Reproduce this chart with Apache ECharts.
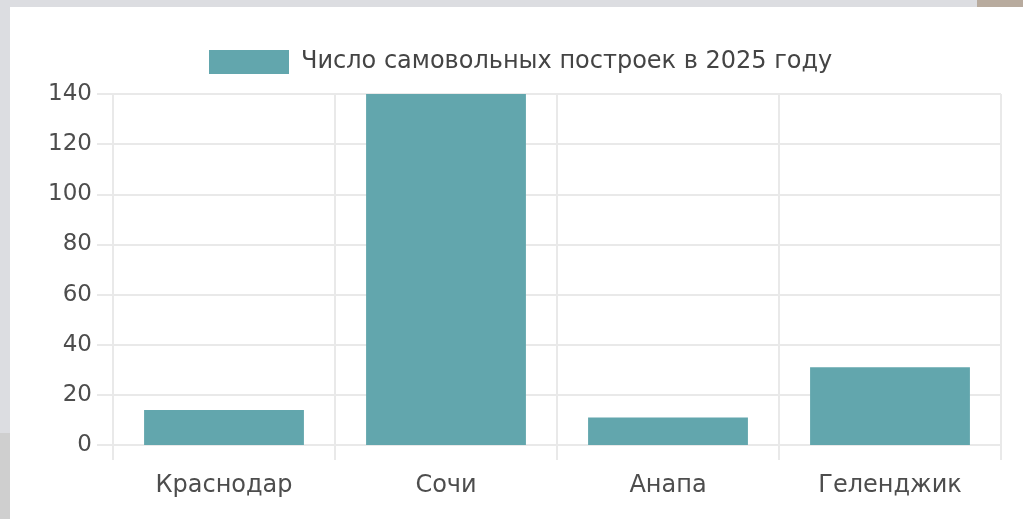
<!DOCTYPE html>
<html>
<head>
<meta charset="utf-8">
<script src="https://cdn.jsdelivr.net/npm/echarts@6/dist/echarts.min.js"></script>
<style>
  html, body { margin: 0; padding: 0; background: #fff; }
  #main { position: absolute; left: 0; top: 0; width: 1023px; height: 519px; }
  .strip { position: absolute; }
</style>
</head>
<body>
<div id="main"></div>
<!-- рамка скриншота -->
<div class="strip" style="left:0;top:0;width:1023px;height:7px;background:#dcdde1;"></div>
<div class="strip" style="left:977px;top:0;width:46px;height:7px;background:#b8ab9e;"></div>
<div class="strip" style="left:0;top:0;width:10px;height:433px;background:#dcdde1;"></div>
<div class="strip" style="left:0;top:433px;width:10px;height:86px;background:#cfcfcf;"></div>
<script>
// данные
let cities = ['Краснодар', 'Сочи', 'Анапа', 'Геленджик'];
let counts = [14, 140, 11, 31];
let seriesName = 'Число самовольных построек в 2025 году';
let yTicks = [0, 140, 20]; // min, max, interval

let chart = echarts.init(document.getElementById('main'));
let gridColor = '#e9e9e9';
let textColor = '#4d4d4d';

const option = {
    animation: false,
    legend: {
        left: 209,
        top: 50,
        padding: 0,
        itemWidth: 80,
        itemHeight: 24,
        icon: 'rect',
        textStyle: {
            fontFamily: 'DejaVu Sans',
            fontSize: 24,
            color: '#444',
            padding: [0, 0, 0, 7]
        },
        data: [seriesName]
    },
    grid: {
        left: 113,
        right: 22,
        top: 94,
        bottom: 74,
        containLabel: false,
        outerBoundsMode: 'none'
    },
    xAxis: {
        type: 'category',
        data: cities,
        boundaryGap: true,
        axisLine: { show: true, lineStyle: { color: gridColor, width: 2 } },
        axisTick: { show: true, length: 15, lineStyle: { color: gridColor, width: 2 } },
        splitLine: { show: true, lineStyle: { color: gridColor, width: 2 } },
        axisLabel: {
            fontFamily: 'DejaVu Sans',
            fontSize: 24,
            color: textColor,
            margin: 29
        }
    },
    yAxis: {
        type: 'value',
        min: yTicks[0],
        max: yTicks[1],
        interval: yTicks[2],
        axisLine: { show: true, lineStyle: { color: gridColor, width: 2 } },
        axisTick: { show: true, length: 16, lineStyle: { color: gridColor, width: 2 } },
        splitLine: { show: true, lineStyle: { color: gridColor, width: 2 } },
        axisLabel: {
            fontFamily: 'DejaVu Sans',
            fontSize: 23,
            color: textColor,
            margin: 21,
            padding: [3, 0, 0, 0]
        }
    },
    series: [
        {
            name: seriesName,
            type: 'bar',
            data: counts,
            barCategoryGap: '28%',
            itemStyle: { color: '#62a6ad' }
        }
    ]
};
chart.setOption(option);
</script>
</body>
</html>
